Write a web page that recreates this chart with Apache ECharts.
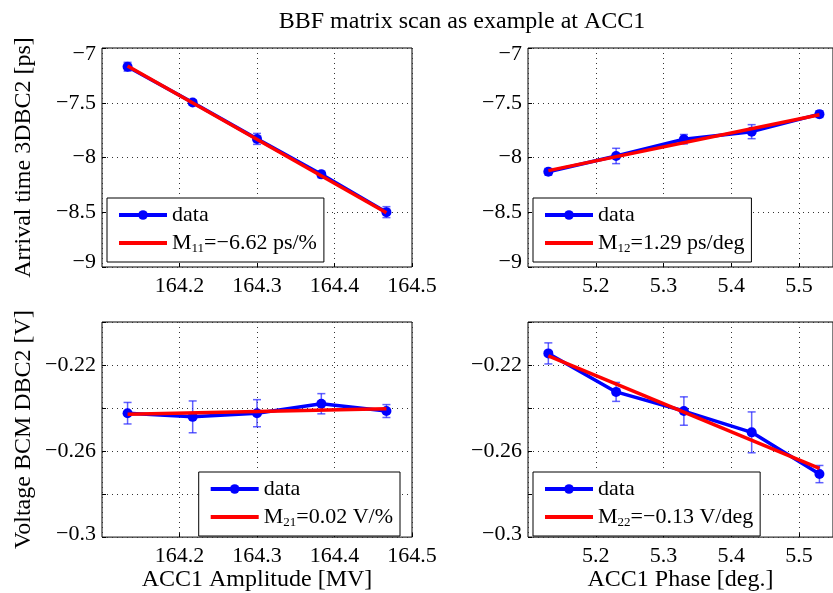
<!DOCTYPE html>
<html>
<head>
<meta charset="utf-8">
<script src="https://cdn.jsdelivr.net/npm/echarts@6/dist/echarts.min.js"></script>
<style>
html, body { margin: 0; padding: 0; background: #fff; }
#main { width: 833px; height: 593px; }
</style>
</head>
<body>
<div id="main"></div>
<script>
// scan points (x axes)
var ampX = [164.133, 164.217, 164.3, 164.383, 164.467];
var phaseX = [5.13, 5.23, 5.33, 5.43, 5.53];

// arrival time 3DBC2 [ps]
var arrAmp = [-7.171, -7.498, -7.83, -8.154, -8.499];
var arrAmpErr = [0.04, 0.025, 0.05, 0.03, 0.05];
var arrPhase = [-8.13, -7.986, -7.833, -7.764, -7.604];
var arrPhaseErr = [0.03, 0.07, 0.043, 0.064, 0.03];

// voltage BCM DBC2 [V]
var bcmAmp = [-0.2424, -0.2441, -0.2424, -0.238, -0.2414];
var bcmAmpErr = [0.005, 0.0074, 0.0063, 0.0047, 0.003];
var bcmPhase = [-0.2146, -0.2325, -0.2414, -0.2513, -0.2707];
var bcmPhaseErr = [0.0049, 0.0044, 0.0066, 0.0095, 0.004];

// fitted lines: value at first and last scan point
var fitArrAmp = [-7.165, -8.505];
var fitArrPhase = [-8.12, -7.61];
var fitBcmAmp = [-0.2429, -0.2403];
var fitBcmPhase = [-0.2157, -0.2681];

var fitNames = ['M11', 'M12', 'M21', 'M22'];
var fitSubs = ['11', '12', '21', '22'];
var fitTexts = ['=\u22126.62 ps/%', '=1.29 ps/deg', '=0.02 V/%', '=\u22120.13 V/deg'];

// axis ranges and labels
var ampRange = [164.1, 164.5];
var phaseRange = [5.1, 5.55];
var arrRange = [-9, -7];
var bcmRange = [-0.3, -0.2];
var bcmLabels = [-0.3, -0.26, -0.22];

var font = 'Liberation Serif';

function minus(v) { return String(v).replace('-', '\u2212'); }

function pts(xs, ys) {
    return xs.map(function (x, i) { return [x, ys[i]]; });
}
function errPts(xs, ys, es) {
    return xs.map(function (x, i) { return [x, ys[i], es[i]]; });
}

function renderErr(params, api) {
    var x = api.value(0), y = api.value(1), e = api.value(2);
    var a = api.coord([x, y + e]);
    var b = api.coord([x, y - e]);
    var st = { stroke: 'rgba(30,30,255,0.7)', lineWidth: 1.5 };
    return {
        type: 'group',
        children: [
            { type: 'line', shape: { x1: a[0], y1: a[1], x2: b[0], y2: b[1] }, style: st },
            { type: 'line', shape: { x1: a[0] - 4, y1: a[1], x2: a[0] + 4, y2: a[1] }, style: st },
            { type: 'line', shape: { x1: b[0] - 4, y1: b[1], x2: b[0] + 4, y2: b[1] }, style: st }
        ]
    };
}

var panels = [
    { xs: ampX, ys: arrAmp, es: arrAmpErr, fit: fitArrAmp },
    { xs: phaseX, ys: arrPhase, es: arrPhaseErr, fit: fitArrPhase },
    { xs: ampX, ys: bcmAmp, es: bcmAmpErr, fit: fitBcmAmp },
    { xs: phaseX, ys: bcmPhase, es: bcmPhaseErr, fit: fitBcmPhase }
];

var grids = [
    { left: 102, top: 48, width: 310, height: 219 },
    { left: 528, top: 48, width: 310, height: 219 },
    { left: 102, top: 322, width: 310, height: 217 },
    { left: 528, top: 322, width: 310, height: 217 }
];
grids.forEach(function (g) {
    g.show = true;
    g.borderColor = '#000';
    g.borderWidth = 1;
    g.backgroundColor = '#fff';
});

var splitStyle = { show: true, lineStyle: { color: '#333', width: 1, type: [1, 4] } };

function xAxisFor(i, range, name) {
    return {
        type: 'value', gridIndex: i,
        min: range[0], max: range[1], interval: 0.1,
        name: name, nameLocation: 'middle', nameGap: 28,
        nameTextStyle: { fontFamily: font, fontSize: 24, color: '#000' },
        axisLine: { show: false },
        axisTick: { show: true, inside: true, length: 4, lineStyle: { color: '#000' } },
        axisLabel: {
            showMinLabel: false, showMaxLabel: range[1] < 100 ? false : true,
            margin: 8, fontFamily: font, fontSize: 22, color: '#000',
            formatter: function (v) { return minus(+v.toFixed(2)); }
        },
        splitLine: splitStyle
    };
}

var rich = {
    top: { fontFamily: font, fontSize: 22, color: '#000', padding: [12, 0, 0, 0] },
    bot: { fontFamily: font, fontSize: 22, color: '#000', padding: [0, 0, 9, 0] },
    bot2: { fontFamily: font, fontSize: 22, color: '#000', padding: [0, 0, 5, 0] }
};

function yArrAxis(i, name) {
    return {
        type: 'value', gridIndex: i,
        min: arrRange[0], max: arrRange[1], interval: 0.5,
        name: name, nameLocation: 'middle', nameGap: 66,
        nameTextStyle: { fontFamily: font, fontSize: 24, color: '#000' },
        axisLine: { show: false },
        axisTick: { show: true, inside: true, length: 4, lineStyle: { color: '#000' } },
        axisLabel: {
            margin: 6, fontFamily: font, fontSize: 22, color: '#000', rich: rich,
            formatter: function (v) {
                if (v === arrRange[1]) return '{top|' + minus(v) + '}';
                if (v === arrRange[0]) return '{bot|' + minus(v) + '}';
                return minus(v);
            }
        },
        splitLine: splitStyle
    };
}

function yBcmAxis(i, name) {
    return {
        type: 'value', gridIndex: i,
        min: bcmRange[0], max: bcmRange[1], interval: 0.02,
        name: name, nameLocation: 'middle', nameGap: 66,
        nameTextStyle: { fontFamily: font, fontSize: 24, color: '#000' },
        axisLine: { show: false },
        axisTick: { show: true, inside: true, length: 4, lineStyle: { color: '#000' } },
        axisLabel: {
            margin: 6, fontFamily: font, fontSize: 22, color: '#000', rich: rich,
            formatter: function (v) {
                for (var k = 0; k < bcmLabels.length; k++) {
                    if (Math.abs(v - bcmLabels[k]) < 1e-6) {
                        return k === 0 ? '{bot2|' + minus(bcmLabels[k]) + '}' : minus(bcmLabels[k]);
                    }
                }
                return '';
            }
        },
        splitLine: splitStyle
    };
}

var series = [];
panels.forEach(function (p, i) {
    series.push({
        type: 'custom', xAxisIndex: i, yAxisIndex: i, silent: true, z: 2,
        renderItem: renderErr, encode: { x: 0, y: 1 },
        data: errPts(p.xs, p.ys, p.es)
    });
    series.push({
        name: 'data', type: 'line', xAxisIndex: i, yAxisIndex: i, z: 3,
        symbol: 'circle', symbolSize: 10,
        lineStyle: { color: '#0000ff', width: 3.5 },
        itemStyle: { color: '#0000ff' },
        data: pts(p.xs, p.ys)
    });
    series.push({
        name: fitNames[i], type: 'line', xAxisIndex: i, yAxisIndex: i, z: 4,
        symbol: 'none',
        lineStyle: { color: '#ff0000', width: 3.5 },
        itemStyle: { color: '#ff0000' },
        data: [[p.xs[0], p.fit[0]], [p.xs[p.xs.length - 1], p.fit[1]]]
    });
});

var legendPos = [
    { left: 107, top: 198 },
    { left: 533, top: 198 },
    { right: 433, top: 472 },
    { left: 533, top: 472 }
];
var legends = legendPos.map(function (pos, i) {
    var l = {
        orient: 'vertical',
        data: [
            { name: 'data', lineStyle: { width: 4 } },
            { name: fitNames[i], itemStyle: { opacity: 0 }, lineStyle: { width: 4 } }
        ],
        itemWidth: 48, itemHeight: 12, itemGap: 4,
        padding: [5, 7, 7, 10],
        borderColor: '#000', borderWidth: 1, backgroundColor: '#fff',
        selectedMode: false,
        textStyle: {
            fontFamily: font, fontSize: 22, color: '#000', lineHeight: 24,
            rich: {
                sub: { fontFamily: font, fontSize: 13, color: '#000', lineHeight: 3, verticalAlign: 'bottom' }
            }
        },
        formatter: function (name) {
            var k = fitNames.indexOf(name);
            if (k < 0) return name;
            return 'M{sub|' + fitSubs[k] + '}' + fitTexts[k];
        }
    };
    for (var key in pos) l[key] = pos[key];
    return l;
});

var chart = echarts.init(document.getElementById('main'));
chart.setOption({
    animation: false,
    backgroundColor: '#fff',
    title: {
        text: 'BBF matrix scan as example at ACC1',
        left: 462, top: 10, textAlign: 'center', padding: 0,
        textStyle: { fontFamily: font, fontSize: 24, fontWeight: 'normal', color: '#000' }
    },
    legend: legends,
    grid: grids,
    xAxis: [
        xAxisFor(0, ampRange, ''),
        xAxisFor(1, phaseRange, ''),
        xAxisFor(2, ampRange, 'ACC1 Amplitude [MV]'),
        xAxisFor(3, phaseRange, 'ACC1 Phase [deg.]')
    ],
    yAxis: [
        yArrAxis(0, 'Arrival time 3DBC2 [ps]'),
        yArrAxis(1, ''),
        yBcmAxis(2, 'Voltage BCM DBC2 [V]'),
        yBcmAxis(3, '')
    ],
    series: series
});
</script>
</body>
</html>
